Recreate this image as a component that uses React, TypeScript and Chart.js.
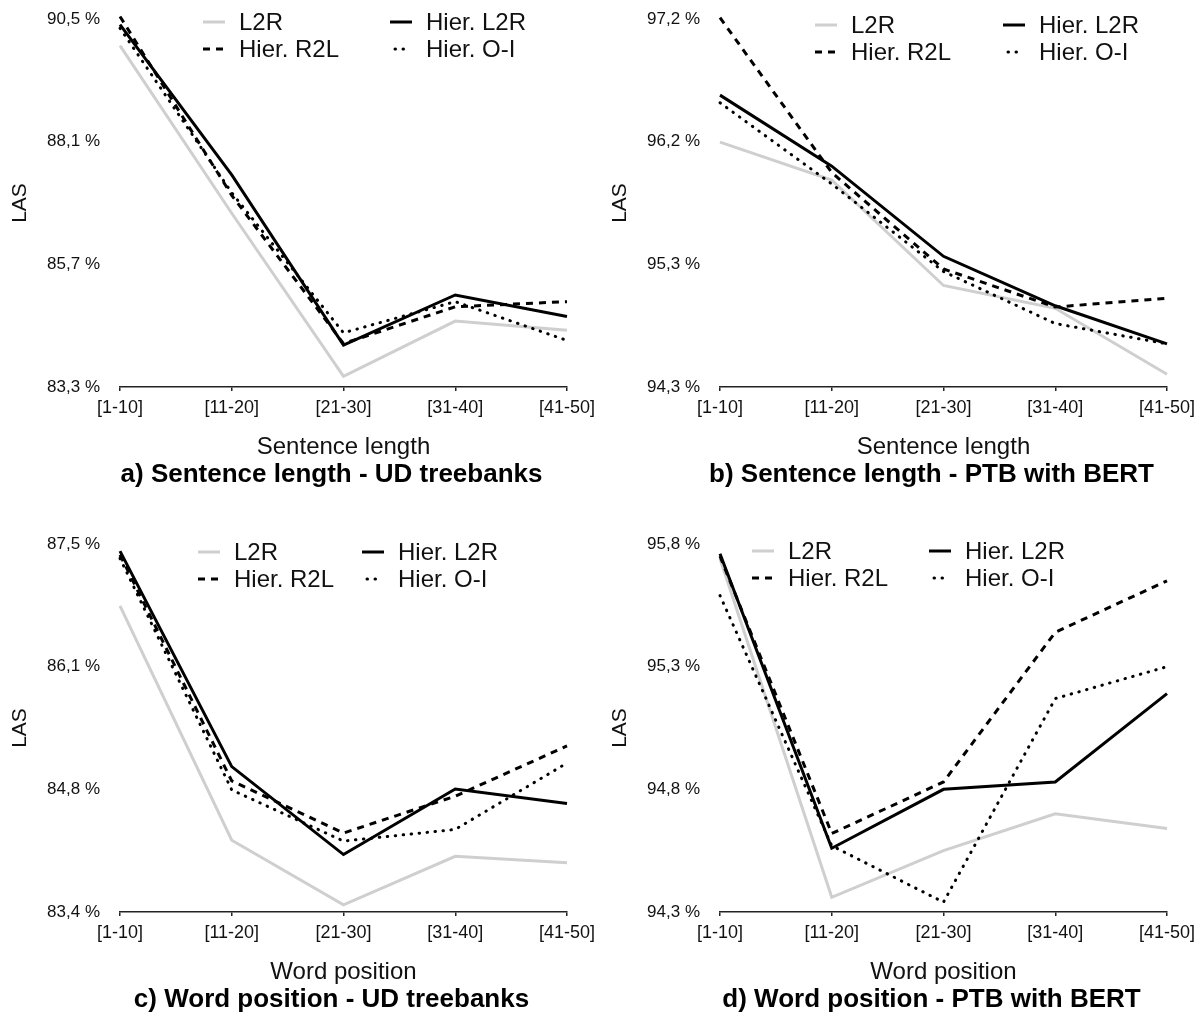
import React, { useEffect, useRef } from 'react';
import { Chart, registerables } from 'chart.js';

Chart.register(...registerables);

const FONT = '"Liberation Sans", Arial, Helvetica, sans-serif';

const categories = ['[1-10]', '[11-20]', '[21-30]', '[31-40]', '[41-50]'];
const seriesNames = ['L2R', 'Hier. L2R', 'Hier. R2L', 'Hier. O-I'];

// a) Sentence length - UD treebanks
const aL2R = [89.98, 86.7, 83.51, 84.59, 84.41];
const aHierL2R = [90.39, 87.45, 84.12, 85.1, 84.68];
const aHierR2L = [90.55, 87.05, 84.15, 84.87, 84.97];
const aHierOI = [90.32, 87.1, 84.36, 84.97, 84.21];
const aTickLabels = ['83,3 %', '85,7 %', '88,1 %', '90,5 %'];
const aMin = 83.3;
const aMax = 90.5;

// b) Sentence length - PTB with BERT
const bL2R = [96.23, 95.93, 95.1, 94.92, 94.4];
const bHierL2R = [96.6, 96.04, 95.33, 94.94, 94.64];
const bHierR2L = [97.21, 95.99, 95.23, 94.93, 95.0];
const bHierOI = [96.54, 95.9, 95.21, 94.8, 94.64];
const bTickLabels = ['94,3 %', '95,3 %', '96,2 %', '97,2 %'];
const bMin = 94.3;
const bMax = 97.2;

// c) Word position - UD treebanks
const cL2R = [86.81, 84.2, 83.48, 84.02, 83.95];
const cHierL2R = [87.42, 85.02, 84.04, 84.77, 84.61];
const cHierR2L = [87.38, 84.86, 84.28, 84.69, 85.25];
const cHierOI = [87.34, 84.76, 84.19, 84.32, 85.06];
const cTickLabels = ['83,4 %', '84,8 %', '86,1 %', '87,5 %'];
const cMin = 83.4;
const cMax = 87.5;

// d) Word position - PTB with BERT
const dL2R = [95.74, 94.36, 94.55, 94.7, 94.64];
const dHierL2R = [95.76, 94.56, 94.8, 94.83, 95.19];
const dHierR2L = [95.75, 94.62, 94.83, 95.44, 95.65];
const dHierOI = [95.59, 94.57, 94.34, 95.17, 95.3];
const dTickLabels = ['94,3 %', '94,8 %', '95,3 %', '95,8 %'];
const dMin = 94.3;
const dMax = 95.8;

const panelTitles = [
  'a) Sentence length - UD treebanks',
  'b) Sentence length - PTB with BERT',
  'c) Word position - UD treebanks',
  'd) Word position - PTB with BERT',
];
const xTitles = ['Sentence length', 'Sentence length', 'Word position', 'Word position'];

const styles = [
  { borderColor: '#cfcfcf', borderWidth: 3, borderDash: [] as number[], borderCapStyle: 'butt', order: 10 },
  { borderColor: '#000000', borderWidth: 3, borderDash: [] as number[], borderCapStyle: 'butt', order: 0 },
  { borderColor: '#000000', borderWidth: 3, borderDash: [7, 6], borderCapStyle: 'butt', order: 1 },
  { borderColor: '#000000', borderWidth: 3, borderDash: [0.5, 7.5], borderCapStyle: 'round', order: 2 },
];

const panels = [
  { series: [aL2R, aHierL2R, aHierR2L, aHierOI], ticks: aTickLabels, min: aMin, max: aMax, legend: { x1: 203, x2: 390, y: 22 }, left: 0, top: 0 },
  { series: [bL2R, bHierL2R, bHierR2L, bHierOI], ticks: bTickLabels, min: bMin, max: bMax, legend: { x1: 215, x2: 403, y: 25 }, left: 600, top: 0 },
  { series: [cL2R, cHierL2R, cHierR2L, cHierOI], ticks: cTickLabels, min: cMin, max: cMax, legend: { x1: 198, x2: 362, y: 27 }, left: 0, top: 525 },
  { series: [dL2R, dHierL2R, dHierR2L, dHierOI], ticks: dTickLabels, min: dMin, max: dMax, legend: { x1: 152, x2: 329, y: 26 }, left: 600, top: 525 },
];

const TITLE_SPACE = 32;

const gridLegend = {
  id: 'gridLegend',
  afterDraw(chart: any, _args: any, opts: any) {
    const ctx = chart.ctx;
    chart.data.datasets.forEach((ds: any, i: number) => {
      const col = i % 2;
      const row = Math.floor(i / 2);
      const x = col === 0 ? opts.x1 : opts.x2;
      const y = opts.y + row * 27;
      ctx.save();
      ctx.strokeStyle = ds.borderColor;
      ctx.lineWidth = ds.borderWidth;
      ctx.setLineDash(ds.borderDash || []);
      ctx.lineCap = ds.borderCapStyle || 'butt';
      ctx.beginPath();
      if (ds.borderCapStyle === 'round') {
        ctx.moveTo(x + 5, y);
        ctx.lineTo(x + 16, y);
      } else {
        ctx.moveTo(x, y);
        ctx.lineTo(x + 22, y);
      }
      ctx.stroke();
      ctx.setLineDash([]);
      ctx.fillStyle = '#111';
      ctx.font = `24px ${FONT}`;
      ctx.textBaseline = 'middle';
      ctx.textAlign = 'left';
      ctx.fillText(ds.label, x + 36, y + 1);
      ctx.restore();
    });
  },
};

const panelTitle = {
  id: 'panelTitle',
  afterDraw(chart: any, _args: any, opts: any) {
    const ctx = chart.ctx;
    const ca = chart.chartArea;
    ctx.save();
    ctx.fillStyle = '#000';
    ctx.font = `bold 26px ${FONT}`;
    ctx.textAlign = 'center';
    ctx.textBaseline = 'middle';
    ctx.fillText(opts.text, (ca.left + ca.right) / 2 + opts.dx, chart.height - 17);
    ctx.restore();
  },
};

function Panel({ idx }: { idx: number }) {
  const ref = useRef<HTMLCanvasElement | null>(null);
  const p = panels[idx];
  useEffect(() => {
    if (!ref.current) return;
    const datasets = p.series.map((vals, i) => ({
      label: seriesNames[i],
      data: vals,
      borderColor: styles[i].borderColor,
      backgroundColor: styles[i].borderColor,
      borderWidth: styles[i].borderWidth,
      borderDash: styles[i].borderDash,
      borderCapStyle: styles[i].borderCapStyle as any,
      borderJoinStyle: 'miter' as any,
      order: styles[i].order,
      pointRadius: 0,
      pointHoverRadius: 0,
      tension: 0,
      fill: false,
      clip: false as any,
    }));
    const chart = new Chart(ref.current, {
      type: 'line',
      data: { labels: categories, datasets },
      options: {
        animation: false,
        responsive: false,
        maintainAspectRatio: false,
        layout: { padding: { top: 19, right: 33, left: 0, bottom: TITLE_SPACE } },
        plugins: {
          legend: { display: false },
          tooltip: { enabled: false },
          title: { display: false },
          gridLegend: p.legend,
          panelTitle: { text: panelTitles[idx], dx: -12 },
        } as any,
        scales: {
          x: {
            type: 'category',
            offset: false,
            grid: { display: true, drawOnChartArea: false, drawTicks: true, tickLength: 4, color: '#222', lineWidth: 1.5 },
            border: { display: true, color: '#222', width: 1.5 },
            ticks: { font: { family: FONT, size: 18, lineHeight: 1.5 }, color: '#111', padding: 4, maxRotation: 0, autoSkip: false },
            title: { display: true, text: xTitles[idx], color: '#111', font: { family: FONT, size: 24, lineHeight: 1 }, padding: { top: 0, bottom: 1 } },
            afterFit: (s: any) => { s.height = 73; },
          },
          y: {
            type: 'linear',
            min: p.min,
            max: p.max,
            grid: { display: false, drawTicks: true, tickLength: 20 },
            border: { display: false },
            ticks: {
              font: { family: FONT, size: 17 },
              color: '#111',
              padding: 0,
              callback: (_v: any, i: number) => p.ticks[i],
            },
            afterBuildTicks: (s: any) => {
              s.ticks = p.ticks.map((_t, i) => ({ value: p.min + (i * (p.max - p.min)) / (p.ticks.length - 1) }));
            },
            title: { display: true, text: 'LAS', color: '#111', font: { family: FONT, size: 21, lineHeight: 1 }, padding: { top: 10, bottom: 0 } },
            afterFit: (s: any) => { s.width = 120; },
          },
        },
      },
      plugins: [gridLegend as any, panelTitle as any],
    });
    return () => chart.destroy();
  }, [idx]);
  return (
    <canvas
      ref={ref}
      width={600}
      height={492}
      style={{ position: 'absolute', left: p.left, top: p.top, width: 600, height: 492 }}
    />
  );
}

export default function App() {
  return (
    <div style={{ position: 'absolute', left: 0, top: 0, width: 1202, height: 1017, background: '#fff', overflow: 'hidden' }}>
      {panels.map((_p, i) => (
        <Panel key={i} idx={i} />
      ))}
    </div>
  );
}
